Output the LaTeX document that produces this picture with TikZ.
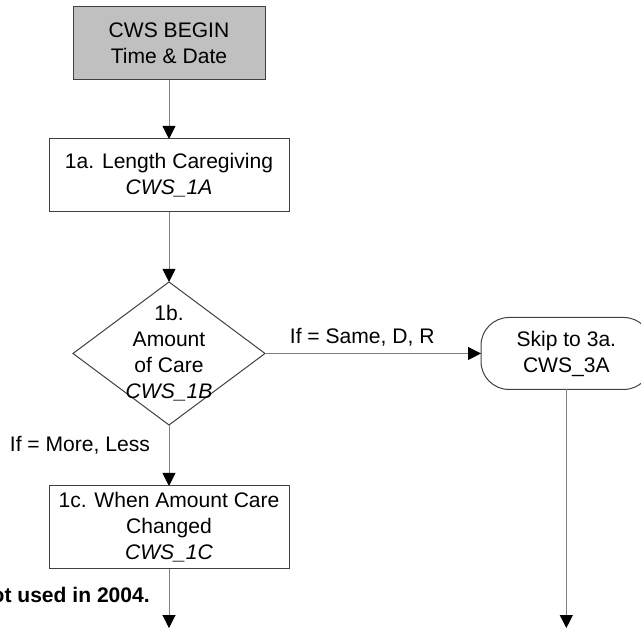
\documentclass[tikz,border=0pt]{standalone}
\usepackage{fontspec}
\setmainfont{Liberation Sans}
\usetikzlibrary{
  arrows.meta,
  positioning,
  shapes.geometric
}
\definecolor{BeginGray}{RGB}{192,192,192}
\definecolor{EdgeGray}{RGB}{64,64,64}
\definecolor{LineGray}{RGB}{128,128,128}
\newcommand{\flowfont}{\fontsize{15.8}{19.5}\selectfont}
\tikzset{
  beginnode/.style={draw=EdgeGray,fill=BeginGray,line width=0.75pt,minimum height=54.75pt,minimum width=144pt,inner sep=3pt,outer sep=0pt,align=center},
  itemnode/.style={draw=EdgeGray,fill=white,line width=0.75pt,minimum height=54.75pt,minimum width=180pt,inner sep=3pt,outer sep=0pt,align=center},
  decision/.style={diamond,draw=EdgeGray,line width=0.75pt,minimum width=144pt,minimum height=107.25pt,inner sep=0pt,outer sep=0pt},
  skipnode/.style={draw=EdgeGray,line width=0.75pt,rounded corners=21pt,minimum height=54pt,minimum width=128pt,inner sep=3pt,outer sep=0pt,align=center},
  flow/.style={-{Triangle[length=9.75pt,width=9.75pt,color=black]},line width=0.75pt,draw=LineGray},
  condlabel/.style={inner sep=0pt}
}

\begin{document}
\begin{tikzpicture}[font=\flowfont]
\useasboundingbox (0,0) rectangle (480.75pt,-471.75pt);

\node[beginnode] (begin) at (126.75pt,-32.6pt) {CWS BEGIN\\Time \& Date};
\node[itemnode, below=44.25pt of begin] (q1a) {1a. Length Caregiving\\\textit{CWS\_1A}};
\node[decision, below=52.5pt of q1a] (q1b) {};
\node[align=center, inner sep=0pt] (q1btext) at (q1b) {1b.\\Amount\\of Care\\\textit{CWS\_1B}};
\node[itemnode, below=45.75pt of q1b, minimum height=62.25pt] (q1c) {1c. When Amount Care\\Changed\\\textit{CWS\_1C}};
\node[skipnode, right=162pt of q1b] (skip) {Skip to 3a.\\CWS\_3A};

\node[font=\flowfont\bfseries, anchor=east, inner sep=0pt] (note) at (112.5pt,-446.25pt) {Not used in 2004.};

\coordinate (out1) at (q1c |- 0,-471pt);
\coordinate (out2) at (skip |- out1);

\draw[flow] (begin) -- (q1a);
\draw[flow] (q1a) -- (q1b);
\draw[flow] (q1b) -- node[condlabel, above=5pt, pos=0.45]{If = Same, D, R} (skip);
\draw[flow] (q1b) -- node[condlabel, left=14pt, pos=0.33]{If = More, Less} (q1c);
\draw[flow] (q1c) -- (out1);
\draw[flow] (skip) -- (out2);
\end{tikzpicture}
\end{document}
